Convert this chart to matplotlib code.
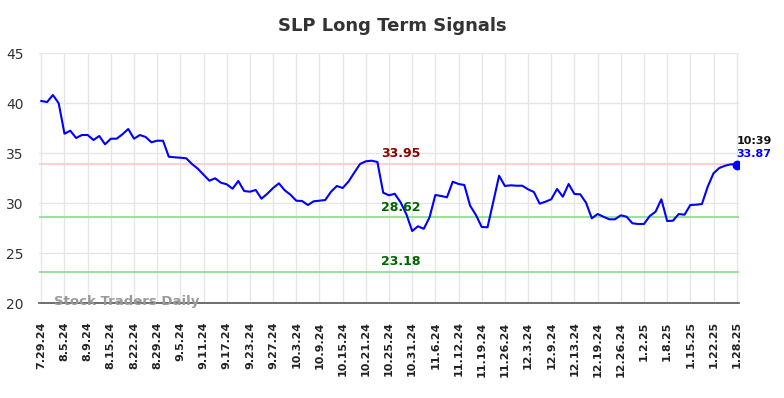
import numpy as np
import matplotlib
matplotlib.use("Agg")
import matplotlib.pyplot as plt

tick_labels = ["7.29.24", "8.5.24", "8.9.24", "8.15.24", "8.22.24", "8.29.24", "9.5.24",
               "9.11.24", "9.17.24", "9.23.24", "9.27.24", "10.3.24", "10.9.24", "10.15.24",
               "10.21.24", "10.25.24", "10.31.24", "11.6.24", "11.12.24", "11.19.24",
               "11.26.24", "12.3.24", "12.9.24", "12.13.24", "12.19.24", "12.26.24",
               "1.2.25", "1.8.25", "1.15.25", "1.22.25", "1.28.25"]

prices = [40.23, 40.13, 40.83, 40.0, 36.96, 37.26, 36.53, 36.83, 36.83, 36.33,
          36.73, 35.9, 36.46, 36.46, 36.9, 37.43, 36.46, 36.83, 36.63, 36.1,
          36.26, 36.26, 34.66, 34.6, 34.56, 34.5, 33.93, 33.46, 32.86, 32.26,
          32.5, 32.06, 31.9, 31.46, 32.23, 31.23, 31.16, 31.33, 30.46, 30.96,
          31.53, 32.0, 31.3, 30.86, 30.26, 30.23, 29.83, 30.2, 30.26, 30.33,
          31.16, 31.73, 31.53, 32.16, 33.06, 33.93, 34.2, 34.26, 34.13, 31.06,
          30.8, 30.95, 30.1, 28.9, 27.23, 27.7, 27.45, 28.6, 30.83, 30.73,
          30.6, 32.16, 31.93, 31.83, 29.76, 28.83, 27.63, 27.6, 30.16, 32.76,
          31.73, 31.8, 31.76, 31.76, 31.4, 31.13, 29.96, 30.16, 30.4, 31.43,
          30.66, 31.93, 30.93, 30.9, 30.06, 28.5, 28.93, 28.66, 28.4, 28.4,
          28.8, 28.66, 28.0, 27.93, 27.93, 28.73, 29.16, 30.4, 28.23, 28.26,
          28.93, 28.86, 29.83, 29.86, 29.93, 31.66, 33.0, 33.53, 33.76, 33.9,
          33.87]

resistance = 33.95
supports = [28.62, 23.18]
last_time = "10:39"
last_price = 33.87
title = "SLP Long Term Signals"
watermark = "Stock Traders Daily"

fig = plt.figure(figsize=(7.84, 3.98), dpi=100)
ax = fig.add_axes([39 / 784, (398 - 303.3) / 398, 700 / 784, 250 / 398])

x = np.arange(len(prices))
tick_pos = x[::4]

ax.set_xlim(-0.4, len(prices) - 1 + 0.4)
ax.set_ylim(20, 45)
ax.set_yticks([20, 25, 30, 35, 40, 45])
ax.set_xticks(tick_pos)
ax.set_xticklabels(tick_labels, rotation=90, fontsize=8, fontweight="bold",
                   color="#222222", va="top", ha="center")
ax.tick_params(axis="y", labelsize=10, colors="#333333", length=0, pad=11)
ax.tick_params(axis="x", length=0, pad=13)

ax.grid(True, color="#e6e6e6", linewidth=1)
ax.set_axisbelow(True)
for s in ["top", "right", "left"]:
    ax.spines[s].set_visible(False)
ax.spines["bottom"].set_color("#555555")
ax.spines["bottom"].set_linewidth(1.2)

ax.axhline(resistance, color="#ffcccc", linewidth=1.3, zorder=1)
for s in supports:
    ax.axhline(s, color="#90e090", linewidth=1.3, zorder=1)

ax.plot(x, prices, color="#0000ff", linewidth=1.5, zorder=3)
ax.plot([x[-1]], [last_price], "o", color="#0000ff", markersize=6, zorder=4)

label_x = 62
ax.text(label_x, resistance + 0.35, f"{resistance:.2f}", color="#8b0000",
        fontsize=9, fontweight="bold", ha="center", va="bottom")
for s in supports:
    ax.text(label_x, s + 0.35, f"{s:.2f}", color="#006400",
            fontsize=9, fontweight="bold", ha="center", va="bottom")

ax.text(x[-1], last_price + 1.06, f"{last_price:.2f}", color="#0000ff",
        fontsize=8, fontweight="bold", ha="left", va="center")
ax.text(x[-1], last_price + 2.36, last_time, color="#111111",
        fontsize=8, fontweight="bold", ha="left", va="center")

ax.text(2.2, 20.15, watermark, color="#999999", fontsize=9.5,
        fontweight="bold", ha="left", va="center", zorder=5)

fig.text(0.5, 1 - 26 / 398, title, fontsize=13, fontweight="bold",
         color="#333333", ha="center", va="center")

fig.savefig("out.png", dpi=100)
